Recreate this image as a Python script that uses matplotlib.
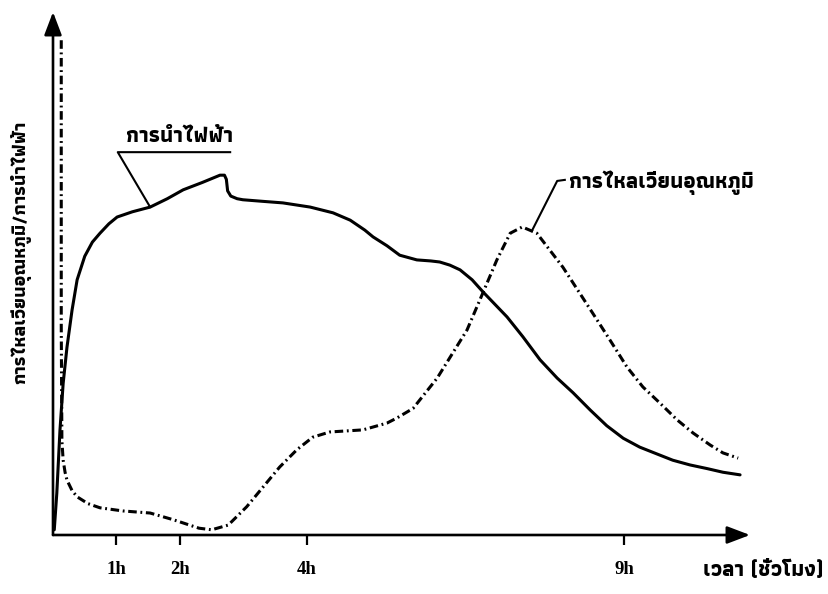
import matplotlib
matplotlib.use("Agg")
import matplotlib.pyplot as plt
import numpy as np
from matplotlib import font_manager as fm
from matplotlib.ft2font import FT2Font

# ---------------- data ----------------
# x in hours, y in arbitrary units (0..100 = axis height)
cond_x = [0.02, 0.06, 0.11, 0.16, 0.22, 0.30, 0.38, 0.50, 0.62, 0.74, 0.88, 1.01, 1.25, 1.53,
          1.80, 2.05, 2.35, 2.63, 2.70, 2.73, 2.75, 2.80, 2.90, 2.99, 3.30, 3.62, 4.05, 4.41,
          4.68, 4.91, 5.04, 5.26, 5.46, 5.73, 5.95, 6.09, 6.25, 6.41, 6.60, 6.77, 7.15, 7.40,
          7.67, 7.94, 8.19, 8.46, 8.72, 8.98, 9.24, 9.51, 9.76, 10.03, 10.30, 10.55, 10.82]
cond_y = [1.0, 8.0, 20.1, 29.0, 35.9, 43.0, 48.8, 53.3, 56.0, 57.7, 59.5, 60.8, 61.8, 62.7,
          64.3, 66.0, 67.4, 68.8, 68.8, 68.0, 65.8, 64.8, 64.3, 64.1, 63.8, 63.5, 62.7, 61.6,
          60.2, 58.3, 57.0, 55.3, 53.5, 52.6, 52.4, 52.2, 51.6, 50.7, 48.8, 46.5, 41.7, 37.9,
          33.5, 30.0, 27.2, 23.9, 20.9, 18.5, 16.8, 15.5, 14.3, 13.4, 12.7, 12.0, 11.5]

heat_x = [0.13, 0.13, 0.14, 0.16, 0.19, 0.22, 0.30, 0.38, 0.55, 0.74, 1.10, 1.53, 1.90,
          2.30, 2.50, 2.76, 3.05, 3.31, 3.57, 3.84, 4.09, 4.36, 4.88, 5.26, 5.42, 5.67, 6.05,
          6.52, 6.77, 6.99, 7.20, 7.39, 7.62, 8.03, 8.50, 8.77, 9.04, 9.29, 9.56, 9.83, 10.08,
          10.35, 10.55, 10.79]
heat_y = [94.6, 40.0, 18.0, 14.3, 12.0, 10.5, 8.5, 7.3, 6.0, 5.2, 4.6, 4.2, 2.9,
          1.3, 1.0, 1.9, 5.4, 9.2, 13.0, 16.3, 18.7, 19.7, 20.1, 21.4, 22.4, 24.2, 30.0,
          39.2, 46.3, 52.6, 57.7, 58.9, 57.7, 51.2, 42.4, 37.3, 32.1, 28.3, 25.2, 22.0, 19.5,
          17.2, 15.7, 14.7]

tick_pos = [1, 2, 4, 9]
tick_labels = ["1h", "2h", "4h", "9h"]

label_cond = "การนำไฟฟ้า"
label_heat = "การไหลเวียนอุณหภูมิ"
y_label = "การไหลเวียนอุณหภูมิ/การนำไฟฟ้า"
x_label = "เวลา (ชั่วโมง)"


# ---------------- font with Thai glyphs, if any ----------------
def thai_families():
    test = [ord(c) for c in "การนำไฟฟ้าเวลหภูมิ"]
    found = []
    for f in fm.fontManager.ttflist:
        try:
            cmap = FT2Font(f.fname).get_charmap()
        except Exception:
            continue
        if all(c in cmap for c in test):
            found.append(f)
    found.sort(key=lambda f: (0 if f.weight in ("bold", 700) else 1, f.name))
    names = []
    for f in found:
        if f.name not in names:
            names.append(f.name)
    return names


thai = thai_families()
thai_family = thai[:1] + ["DejaVu Sans"]
plt.rcParams["font.family"] = thai_family

# ---------------- figure ----------------
W, H = 829, 594
fig = plt.figure(figsize=(W / 100, H / 100), dpi=100)
ax = fig.add_axes([53 / W, (H - 535) / H, (750 - 53) / W, (535 - 12) / H])
ax.set_xlim(0, (750 - 53) / 63.5)
ax.set_ylim(0, 100)
for s in ax.spines.values():
    s.set_visible(False)

lw_axis = 1.9
arrow = dict(arrowstyle="-|>,head_length=1.0,head_width=0.38", lw=lw_axis,
             color="black", shrinkA=0, shrinkB=0, mutation_scale=14)
ax.annotate("", xy=(1, 0), xytext=(0, 0), xycoords="axes fraction", arrowprops=arrow)
ax.annotate("", xy=(0, 1), xytext=(0, 0), xycoords="axes fraction", arrowprops=arrow)

ax.plot(cond_x, cond_y, color="black", lw=2.2, solid_joinstyle="round", solid_capstyle="round")
ax.plot(heat_x, heat_y, color="black", lw=2.2, dashes=(2.8, 1.2, 0.6, 1.2))

ax.set_xticks(tick_pos)
ax.set_xticklabels(tick_labels, family="Liberation Serif", fontweight="bold", fontsize=13.5)
ax.tick_params(axis="x", direction="out", length=7, width=1.6, pad=12)
ax.set_yticks([])

# leader + label for conductivity
lx = 1.53
ly = float(np.interp(lx, cond_x, cond_y))
ax.plot([lx, 1.02, 2.79], [ly, 73.2, 73.2], color="black", lw=1.5, clip_on=False)
ax.text(2.0, 74.4, label_cond, ha="center", va="bottom", fontsize=15.5, fontweight="bold")

# leader + label for heat flow
hx = 7.54
hy = float(np.interp(hx, heat_x, heat_y))
ax.plot([hx, 7.94, 8.06], [hy, 67.7, 67.9], color="black", lw=1.5, clip_on=False)
ax.text(8.13, 67.3, label_heat, ha="left", va="center", fontsize=15.5, fontweight="bold")

fig.text(21 / W, 1 - 252 / H, y_label, rotation=90, ha="center", va="center",
         fontsize=13.5, fontweight="bold")
fig.text(763 / W, 1 - 570 / H, x_label, ha="center", va="center", fontsize=15.5,
         fontweight="bold")

fig.savefig("out.png", dpi=100)
